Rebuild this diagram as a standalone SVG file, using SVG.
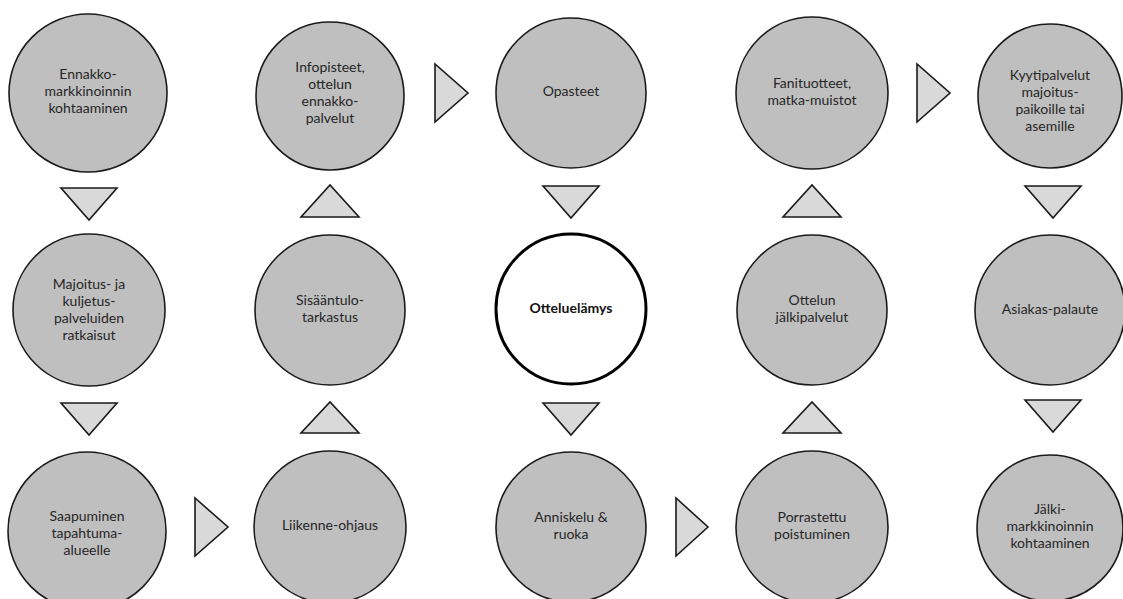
<svg xmlns="http://www.w3.org/2000/svg" width="1123" height="599" viewBox="0 0 1123 599">
<style>
.c{fill:#bfbfbf;stroke:#1a1a1a;stroke-width:1.6}
.core{fill:#ffffff;stroke:#000000;stroke-width:3}
.t{font-family:Lato,"Open Sans","Liberation Sans",sans-serif;font-size:14px;fill:#262626;text-anchor:middle}
.b{font-weight:bold;fill:#111}
.a{fill:#d9d9d9;stroke:#1a1a1a;stroke-width:1.6;stroke-linejoin:miter}
</style>
<rect width="1123" height="599" fill="#ffffff"/>
<g id="connectors">
<polygon class="a" points="61,188 117,188 89,220"/>
<polygon class="a" points="61,403 117,403 89,435"/>
<polygon class="a" points="301,217 359,217 330,185"/>
<polygon class="a" points="301,433 359,433 330,402"/>
<polygon class="a" points="543,186 599,186 571,218"/>
<polygon class="a" points="543,403 599,403 571,435"/>
<polygon class="a" points="783,217 841,217 812,185"/>
<polygon class="a" points="783,433 841,433 812,402"/>
<polygon class="a" points="1025,186 1081,186 1053,218"/>
<polygon class="a" points="1025,400 1081,400 1053,432"/>
<polygon class="a" points="435,64 435,122 468,93"/>
<polygon class="a" points="917,64 917,122 950,93"/>
<polygon class="a" points="195,498 195,556 228,527"/>
<polygon class="a" points="676,498 676,556 708,527"/>
</g>
<g id="n1"><circle class="c" cx="88" cy="93" r="79"/><text class="t" x="88" y="79">Ennakko-<tspan x="88" dy="17">markkinoinnin</tspan><tspan x="88" dy="17">kohtaaminen</tspan></text></g>
<g id="n2"><circle class="c" cx="330" cy="96" r="74"/><text class="t" x="330" y="72">Infopisteet,<tspan x="330" dy="17">ottelun</tspan><tspan x="330" dy="17">ennakko-</tspan><tspan x="330" dy="17">palvelut</tspan></text></g>
<g id="n3"><circle class="c" cx="571" cy="93" r="75"/><text class="t" x="571" y="96">Opasteet</text></g>
<g id="n4"><circle class="c" cx="812" cy="93" r="76"/><text class="t" x="812" y="88">Fanituotteet,<tspan x="812" dy="17">matka-muistot</tspan></text></g>
<g id="n5"><circle class="c" cx="1050" cy="96" r="72"/><text class="t" x="1050" y="80">Kyytipalvelut<tspan x="1050" dy="17">majoitus-</tspan><tspan x="1050" dy="17">paikoille tai</tspan><tspan x="1050" dy="17">asemille</tspan></text></g>
<g id="n6"><circle class="c" cx="89" cy="310" r="76"/><text class="t" x="89" y="289">Majoitus- ja<tspan x="89" dy="17">kuljetus-</tspan><tspan x="89" dy="17">palveluiden</tspan><tspan x="89" dy="17">ratkaisut</tspan></text></g>
<g id="n7"><circle class="c" cx="330" cy="310" r="75"/><text class="t" x="330" y="305">Sisääntulo-<tspan x="330" dy="17">tarkastus</tspan></text></g>
<g id="n8"><circle class="core" cx="571" cy="309" r="75"/><text class="t b" x="571" y="313">Otteluelämys</text></g>
<g id="n9"><circle class="c" cx="812" cy="310" r="75"/><text class="t" x="812" y="305">Ottelun<tspan x="812" dy="17">jälkipalvelut</tspan></text></g>
<g id="n10"><circle class="c" cx="1050" cy="310" r="75"/><text class="t" x="1050" y="314">Asiakas-palaute</text></g>
<g id="n11"><circle class="c" cx="87" cy="531" r="79"/><text class="t" x="87" y="521">Saapuminen<tspan x="87" dy="17">tapahtuma-</tspan><tspan x="87" dy="17">alueelle</tspan></text></g>
<g id="n12"><circle class="c" cx="330" cy="527" r="76"/><text class="t" x="330" y="530">Liikenne-ohjaus</text></g>
<g id="n13"><circle class="c" cx="571" cy="527" r="75"/><text class="t" x="571" y="522">Anniskelu &amp;<tspan x="571" dy="17">ruoka</tspan></text></g>
<g id="n14"><circle class="c" cx="812" cy="527" r="76"/><text class="t" x="812" y="522">Porrastettu<tspan x="812" dy="17">poistuminen</tspan></text></g>
<g id="n15"><circle class="c" cx="1050" cy="528" r="73"/><text class="t" x="1050" y="514">Jälki-<tspan x="1050" dy="17">markkinoinnin</tspan><tspan x="1050" dy="17">kohtaaminen</tspan></text></g>
</svg>
